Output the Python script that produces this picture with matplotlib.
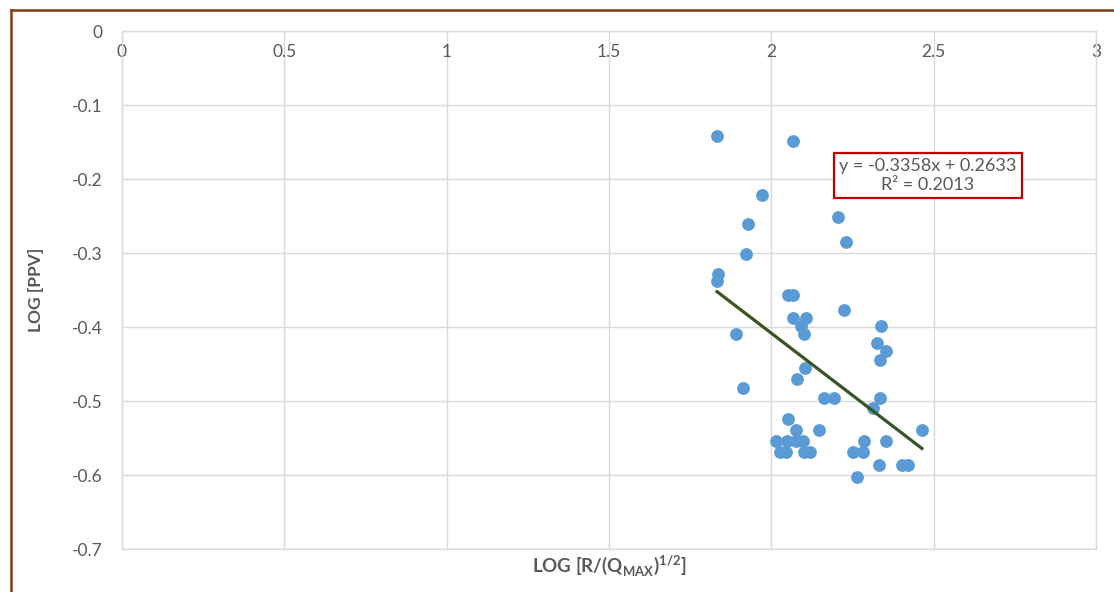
"""Scatter of LOG[PPV] vs scaled distance with Excel-style linear trendline."""

import matplotlib

matplotlib.use("Agg")
import matplotlib.pyplot as plt
from matplotlib.lines import Line2D

# data
log_sd = [
    1.833, 2.067, 1.971, 1.928, 1.922, 2.205, 2.229, 1.836, 1.833,
    2.051, 2.067, 2.223, 1.891, 2.067, 2.107, 2.091, 2.100,
    2.338, 2.325, 2.353, 2.334, 2.103, 2.079, 1.913, 2.162, 2.193,
    2.334, 2.313, 2.051, 2.076, 2.147, 2.464,
    2.014, 2.048, 2.077, 2.097, 2.285, 2.353,
    2.028, 2.045, 2.100, 2.118, 2.251, 2.282,
    2.333, 2.402, 2.422, 2.265,
]
log_ppv = [
    -0.142, -0.149, -0.222, -0.261, -0.301, -0.251, -0.285, -0.328, -0.338,
    -0.357, -0.357, -0.377, -0.409, -0.388, -0.388, -0.399, -0.409,
    -0.399, -0.421, -0.433, -0.444, -0.456, -0.470, -0.482, -0.496, -0.496,
    -0.496, -0.510, -0.524, -0.539, -0.539, -0.539,
    -0.554, -0.554, -0.554, -0.554, -0.554, -0.554,
    -0.569, -0.569, -0.569, -0.569, -0.569, -0.569,
    -0.587, -0.587, -0.587, -0.603,
]
slope, intercept, r2 = -0.3358, 0.2633, 0.2013

BLUE, GREEN, RED, GRID, TXT = "#5B9BD5", "#375623", "#C00000", "#D9D9D9", "#595959"

plt.rcParams.update({
    "font.family": ["Lato", "DejaVu Sans"],
    "mathtext.fontset": "custom",
    "mathtext.bf": "Lato:bold",
    "mathtext.rm": "Lato",
})

fig = plt.figure(figsize=(11.14, 5.92), dpi=100)
ax = fig.add_axes([0.1095, 0.0726, 0.8743, 0.875])

ax.scatter(log_sd, log_ppv, s=85, color=BLUE, zorder=3, linewidths=0)
x0, x1 = min(log_sd), max(log_sd)
ax.plot([x0, x1], [slope * x0 + intercept, slope * x1 + intercept],
        color=GREEN, lw=2.3, zorder=4)

ax.set_xlim(0, 3)
ax.set_ylim(-0.7, 0)
ax.set_xticks([0, 0.5, 1, 1.5, 2, 2.5, 3], ["0", "0.5", "1", "1.5", "2", "2.5", "3"])
ax.set_yticks([0, -0.1, -0.2, -0.3, -0.4, -0.5, -0.6, -0.7],
              ["0", "-0.1", "-0.2", "-0.3", "-0.4", "-0.5", "-0.6", "-0.7"])
ax.grid(True, color=GRID, lw=1)
ax.set_axisbelow(True)
for sp in ax.spines.values():
    sp.set_color(GRID)
    sp.set_linewidth(1)
ax.tick_params(axis="x", bottom=False, labelbottom=False, top=False, labeltop=True,
               pad=-21, labelsize=12.5, labelcolor=TXT, length=0)
ax.tick_params(axis="y", length=0, pad=14, labelsize=12.5, labelcolor=TXT)

ax.set_ylabel("LOG [PPV]", fontsize=12.5, fontweight="bold", color=TXT, labelpad=20)
fig.text(0.5466, 0.045, r"LOG [R/(Q$_\mathbf{MAX}$)$^\mathbf{1/2}$]", ha="center",
         va="center", fontsize=13.5, fontweight="bold", color=TXT)

ax.text(0.8275, 0.721, f"y = {slope}x + {intercept}\nR² = {r2}", transform=ax.transAxes,
        ha="center", va="center", fontsize=13, color=TXT, linespacing=1.2,
        bbox=dict(boxstyle="square,pad=0.3", fc="white", ec=RED, lw=1.6), zorder=5)

# brown chart-area border (top and left edges visible)
fig.add_artist(Line2D([11 / 1114, 1], [1 - 10 / 592, 1 - 10 / 592], color="#843C0C", lw=1.8))
fig.add_artist(Line2D([11 / 1114, 11 / 1114], [0, 1 - 10 / 592], color="#843C0C", lw=1.8))

fig.savefig("out.png", dpi=100)
